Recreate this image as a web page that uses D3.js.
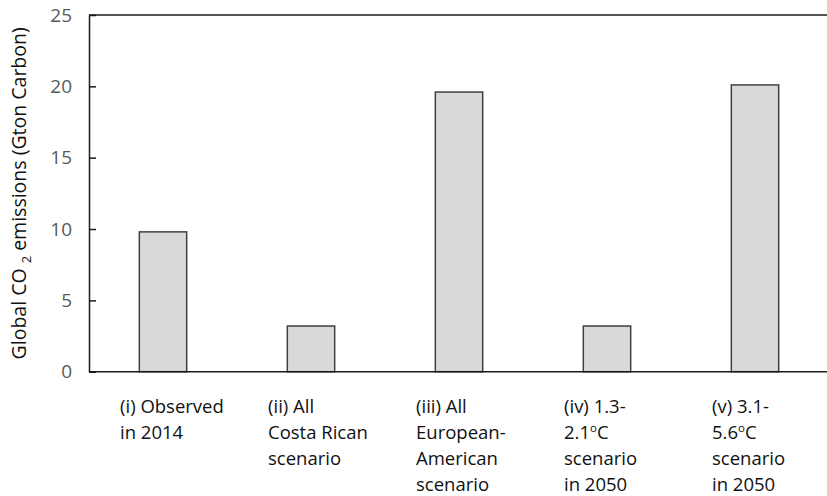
<!DOCTYPE html>
<html>
<head>
<meta charset="utf-8">
<script src="https://cdn.jsdelivr.net/npm/d3@7/dist/d3.min.js"></script>
<style>
  html, body { margin: 0; padding: 0; background: #fff; }
  svg { display: block; }
</style>
</head>
<body>
<svg id="chart" width="827" height="496"></svg>
<script>
// Scenario categories and emissions (Gton Carbon)
const categories = ["obs2014", "costaRica", "euroAmerican", "warm13", "warm31"];
const emissions = [9.8, 3.2, 19.6, 3.2, 20.1];
// Category labels, one entry per line; "^o" marks a raised degree "o"
const labelLines = [
  ["(i) Observed", "in 2014"],
  ["(ii) All", "Costa Rican", "scenario"],
  ["(iii) All", "European-", "American", "scenario"],
  ["(iv) 1.3-", "2.1^oC", "scenario", "in 2050"],
  ["(v) 3.1-", "5.6^oC", "scenario", "in 2050"]
];
const yTicks = [0, 5, 10, 15, 20, 25];

const svg = d3.select("#chart");
const plotLeft = 89, plotRight = 829, plotTop = 15, plotBottom = 371.7;

const x = d3.scaleBand().domain(categories).range([plotLeft, plotRight]).paddingInner(0.68).paddingOuter(0.34);
const y = d3.scaleLinear().domain([0, 25]).range([plotBottom, plotTop]);

// Top edge of the plot frame
svg.append("line")
  .attr("x1", plotLeft).attr("x2", plotRight)
  .attr("y1", y(25)).attr("y2", y(25))
  .attr("stroke", "#1a1a1a").attr("stroke-width", 1.5);

// Bars
svg.append("g").selectAll("rect")
  .data(emissions)
  .join("rect")
  .attr("x", (d, i) => x(categories[i]))
  .attr("width", x.bandwidth())
  .attr("y", d => y(d))
  .attr("height", d => y(0) - y(d))
  .attr("fill", "#d9d9d9")
  .attr("stroke", "#404040")
  .attr("stroke-width", 1.5);

// Left axis with inward ticks
const yAxis = d3.axisLeft(y).tickValues(yTicks).tickSizeInner(-7).tickSizeOuter(0).tickPadding(17);
const gy = svg.append("g").attr("transform", `translate(${plotLeft},0)`).call(yAxis);
gy.select(".domain").attr("stroke", "#1a1a1a").attr("stroke-width", 1.5);
gy.selectAll(".tick line").attr("stroke", "#1a1a1a").attr("stroke-width", 1.5);
gy.selectAll(".tick text")
  .attr("font-family", "'Open Sans', sans-serif")
  .attr("font-size", 19)
  .attr("fill", "#595959");

// Bottom axis line
svg.append("line")
  .attr("x1", plotLeft).attr("x2", plotRight)
  .attr("y1", y(0)).attr("y2", y(0))
  .attr("stroke", "#1a1a1a").attr("stroke-width", 1.5);

// Category labels, left-aligned under each bar
const labels = svg.append("g")
  .attr("font-family", "'Open Sans', sans-serif")
  .attr("font-size", 18.5)
  .attr("fill", "#111");
labelLines.forEach((lines, i) => {
  const lx = x(categories[i]) + x.bandwidth() / 2 - 43;
  const t = labels.append("text").attr("x", lx).attr("y", 413);
  lines.forEach((line, j) => {
    const parts = line.split("^o");
    t.append("tspan").attr("x", lx).attr("dy", j === 0 ? 0 : 26).text(parts[0]);
    if (parts.length > 1) {
      t.append("tspan").attr("font-size", 11.5).attr("dy", -7).text("o");
      t.append("tspan").attr("dy", 7).text(parts[1]);
    }
  });
});

// Y axis title with subscript 2
const title = svg.append("text")
  .attr("transform", `translate(26,${(plotTop + plotBottom) / 2}) rotate(-90)`)
  .attr("text-anchor", "middle")
  .attr("font-family", "'Open Sans', sans-serif")
  .attr("font-size", 19.5)
  .attr("fill", "#111");
title.append("tspan").text("Global CO ");
title.append("tspan").attr("font-size", 13).attr("dy", 5).text("2");
title.append("tspan").attr("dy", -5).text(" emissions (Gton Carbon)");
</script>
</body>
</html>
